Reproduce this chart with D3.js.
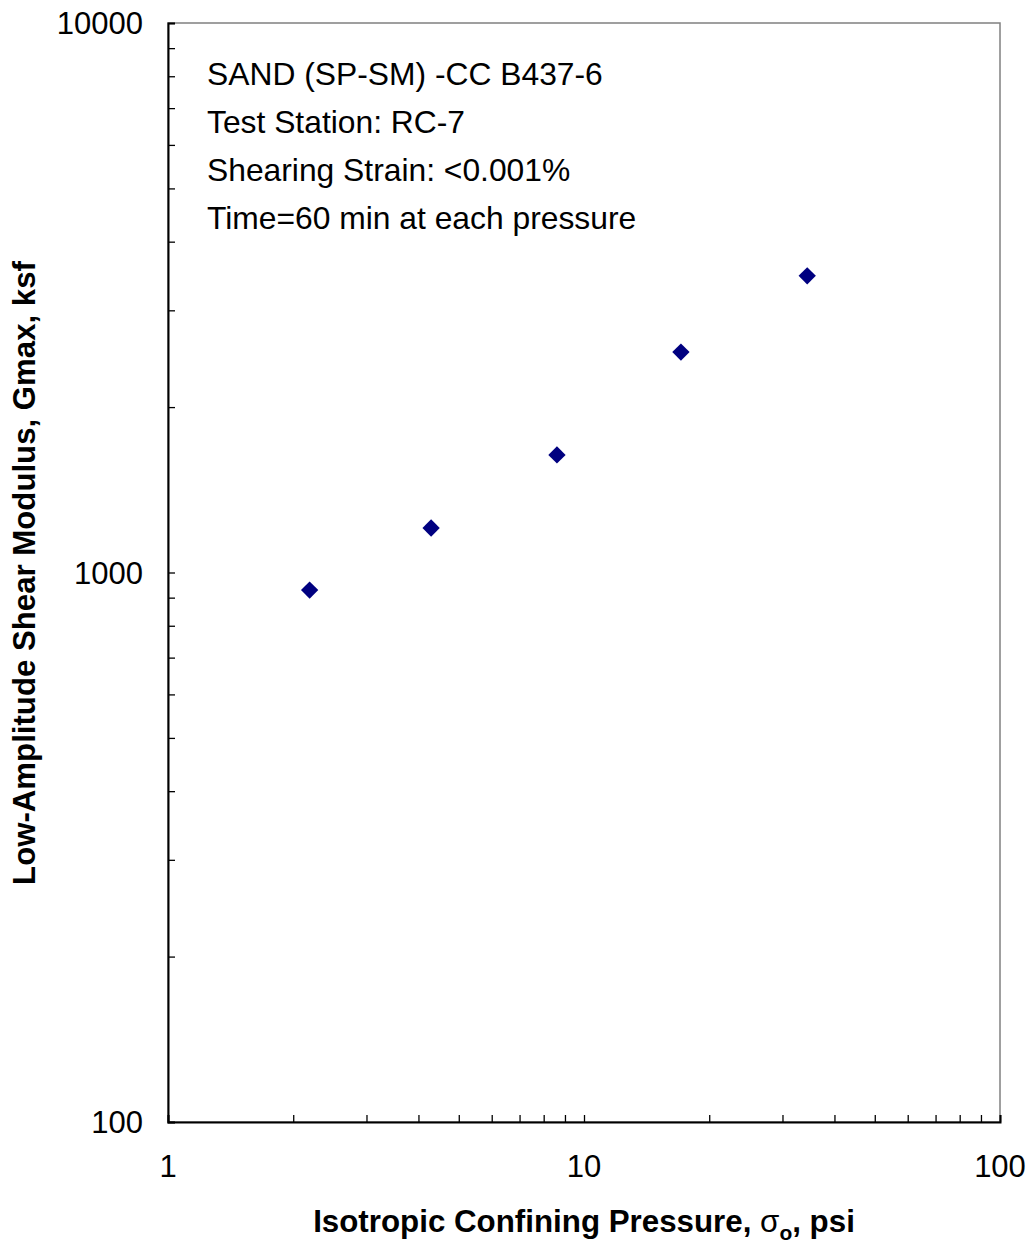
<!DOCTYPE html>
<html><head><meta charset="utf-8">
<script src="https://cdnjs.cloudflare.com/ajax/libs/d3/7.8.5/d3.min.js"></script>
<style>body{margin:0;background:#fff;} svg{display:block;font-family:"Liberation Sans",Arial,sans-serif;}</style>
</head><body>
<script>
const pressure = [2.19, 4.29, 8.61, 17.1, 34.4];
const gmax = [929, 1205, 1637, 2518, 3467];
const xTickValues = [1, 10, 100];
const yTickValues = [100, 1000, 10000];
const notes = ["SAND (SP-SM) -CC B437-6", "Test Station: RC-7", "Shearing Strain: <0.001%", "Time=60 min at each pressure"];

const W = 1032, H = 1245;
const L = 168, R = 1000, T = 23, B = 1122;
const svg = d3.select("body").append("svg").attr("width", W).attr("height", H);

const x = d3.scaleLog().domain([1, 100]).range([L, R]);
const y = d3.scaleLog().domain([100, 10000]).range([B, T]);

// frame
svg.append("rect").attr("x", L).attr("y", T).attr("width", R - L).attr("height", B - T)
  .attr("fill", "none").attr("stroke", "#808080").attr("stroke-width", 1.5);

const minorX = [], minorY = [];
for (let d = 1; d < 100; d *= 10) for (let k = 2; k <= 9; k++) minorX.push(d * k);
for (let d = 100; d < 10000; d *= 10) for (let k = 2; k <= 9; k++) minorY.push(d * k);

// x axis
const gx = svg.append("g").attr("transform", `translate(0,${B})`);
gx.call(d3.axisBottom(x).tickValues(minorX.concat(xTickValues)).tickSize(-7).tickFormat(""));
gx.select(".domain").attr("stroke", "#000").attr("stroke-width", 2);
gx.selectAll(".tick line").attr("stroke", "#000").attr("stroke-width", 1.3);
svg.append("g").selectAll("text").data(xTickValues).join("text")
  .attr("x", d => x(d)).attr("y", 1177).attr("text-anchor", "middle")
  .attr("font-size", 31).text(d => d);

// y axis
const gy = svg.append("g").attr("transform", `translate(${L},0)`);
gy.call(d3.axisLeft(y).tickValues(minorY.concat(yTickValues)).tickSize(-7).tickFormat(""));
gy.select(".domain").attr("stroke", "#000").attr("stroke-width", 2);
gy.selectAll(".tick line").attr("stroke", "#000").attr("stroke-width", 1.3);
svg.append("g").selectAll("text").data(yTickValues).join("text")
  .attr("x", 143).attr("y", d => y(d) + 11).attr("text-anchor", "end")
  .attr("font-size", 31).text(d => d);

// annotations
svg.append("g").selectAll("text").data(notes).join("text")
  .attr("x", 207).attr("y", (d, i) => 85 + i * 48).attr("font-size", 31.8).text(d => d);

// points
const diamond = d3.symbol().type(d3.symbolSquare).size(150);
svg.append("g").selectAll("path").data(pressure).join("path")
  .attr("d", diamond)
  .attr("transform", (d, i) => `translate(${x(d)},${y(gmax[i])}) rotate(45)`)
  .attr("fill", "#000080");

// axis titles
const xt = svg.append("text").attr("x", 584).attr("y", 1232).attr("text-anchor", "middle")
  .attr("font-size", 31.3).attr("font-weight", "bold");
xt.append("tspan").text("Isotropic Confining Pressure, ");
xt.append("tspan").text("σ").attr("font-weight", "normal");
xt.append("tspan").text("o").attr("font-size", 21).attr("dy", 8);
xt.append("tspan").text(", psi").attr("dy", -8);

svg.append("text").attr("transform", `translate(35,573) rotate(-90)`).attr("text-anchor", "middle")
  .attr("font-size", 31.2).attr("font-weight", "bold")
  .text("Low-Amplitude Shear Modulus, Gmax, ksf");
</script>
</body></html>
